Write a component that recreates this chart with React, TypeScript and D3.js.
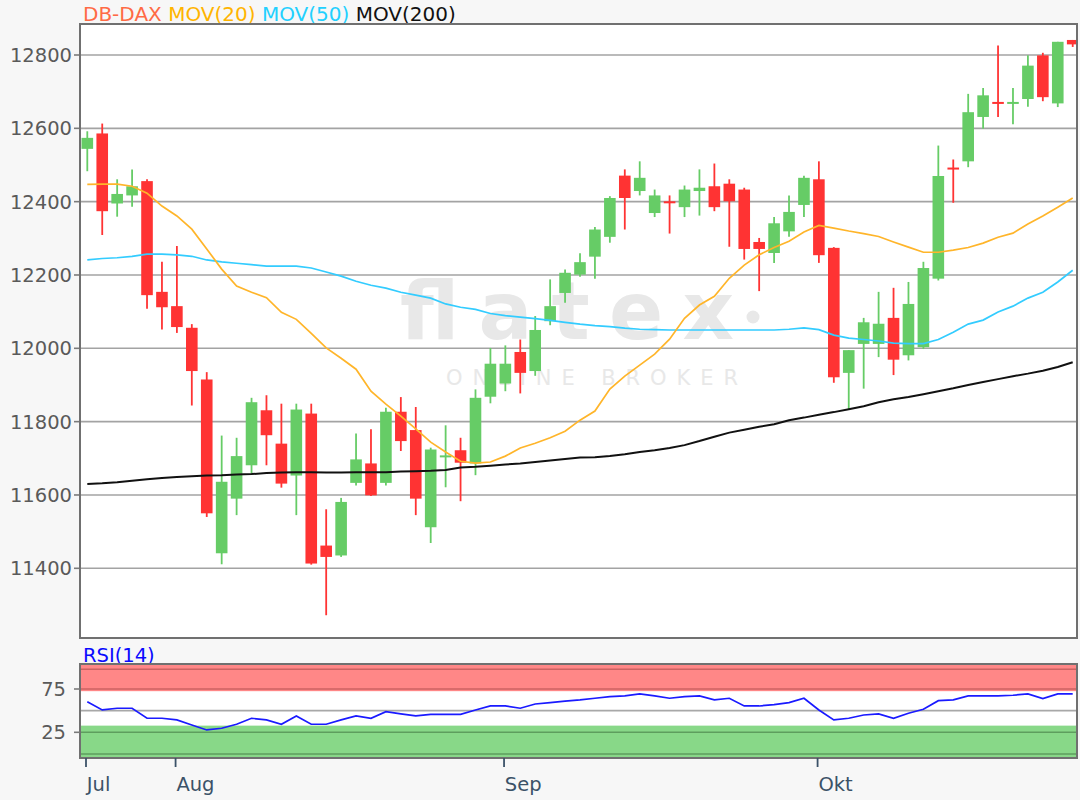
import React from "react";
import * as d3 from "d3";

// ---------- data ----------
const xTickLabels = ["Jul", "Aug", "Sep", "Okt"];
const xTickIndex = [0, 6, 28, 49];
const yTickValues = [11400, 11600, 11800, 12000, 12200, 12400, 12600, 12800];
const rsiTickValues = [25, 75];
const rsiUpperBand = [72.5, 104];
const rsiLowerBand = [-5, 32.7];
const rsiBandLines = [97.8, 75, 25, 0];

const opens = [
  12544, 12586, 12395, 12417, 12456, 12154, 12115, 12056, 11915, 11441,
  11590, 11681, 11831, 11740, 11653, 11822, 11462, 11435, 11633, 11686,
  11633, 11827, 11777, 11512, 11704, 11722, 11686, 11868, 11904, 11990,
  11938, 12074, 12151, 12201, 12250, 12304, 12471, 12429, 12369, 12401,
  12385, 12429, 12442, 12449, 12433, 12290, 12260, 12319, 12391, 12461,
  12274, 11933, 12012, 12012, 12083, 11981, 12003, 12190, 12493, 12510,
  12631, 12672, 12668, 12680, 12799, 12668, 12841,
];
const highs = [
  12592, 12613, 12461, 12488, 12461, 12236, 12279, 12066, 11935, 11762,
  11756, 11865, 11872, 11849, 11849, 11849, 11561, 11592, 11768, 11779,
  11838, 11867, 11840, 11729, 11790, 11756, 11888, 12001, 12008, 12024,
  12088, 12188, 12215, 12259, 12331, 12415, 12488, 12510, 12433, 12417,
  12444, 12488, 12504, 12461, 12438, 12301, 12358, 12417, 12471, 12510,
  12276, 11995, 12083, 12154, 12165, 12181, 12236, 12553, 12515, 12694,
  12710, 12826, 12710, 12799, 12806, 12836, 12841,
];
const lows = [
  12483, 12309, 12359, 12386, 12108, 12051, 12042, 11844, 11540, 11411,
  11545, 11659, 11681, 11620, 11545, 11410, 11272, 11431, 11626, 11597,
  11626, 11720, 11545, 11469, 11621, 11583, 11654, 11850, 11883, 11877,
  11925, 12063, 12124, 12195, 12190, 12288, 12324, 12417, 12358, 12313,
  12358, 12362, 12374, 12277, 12242, 12156, 12233, 12304, 12358, 12233,
  11906, 11833, 11890, 11976, 11927, 11967, 11998, 12185, 12397, 12494,
  12599, 12631, 12611, 12659, 12674, 12658, 12822,
];
const closes = [
  12574, 12374, 12421, 12442, 12145, 12112, 12058, 11938, 11550, 11636,
  11706, 11853, 11763, 11631, 11833, 11413, 11431, 11581, 11697, 11599,
  11827, 11747, 11590, 11724, 11708, 11688, 11865, 11958, 11958, 11933,
  12050, 12115, 12206, 12235, 12324, 12410, 12410, 12465, 12417, 12397,
  12433, 12438, 12385, 12401, 12271, 12271, 12341, 12372, 12465, 12254,
  11921, 11995, 12071, 12067, 11969, 12121, 12219, 12470, 12489, 12644,
  12690, 12668, 12672, 12771, 12685, 12836, 12829,
];
const mov20 = [
  12447, 12448, 12448, 12442, 12423, 12388, 12361, 12325, 12271, 12216,
  12170, 12153, 12138, 12098, 12079, 12041, 12001, 11973, 11943, 11883,
  11848, 11815, 11780, 11744, 11717, 11692, 11687, 11690, 11706, 11728,
  11741, 11756, 11774, 11804, 11829, 11889, 11924, 11954, 11984, 12025,
  12082, 12118, 12142, 12191, 12227, 12255, 12275, 12292, 12317, 12335,
  12328, 12320, 12313, 12305, 12290, 12276, 12262, 12262, 12268, 12275,
  12287, 12303, 12314, 12339, 12361, 12385, 12410,
];
const mov50 = [
  12241, 12245, 12247, 12251, 12257, 12257, 12255, 12251, 12241, 12236,
  12232, 12228, 12224, 12224, 12224, 12219, 12208, 12197, 12183, 12172,
  12164, 12153, 12145, 12137, 12121, 12112, 12106, 12095, 12089, 12085,
  12081, 12076, 12071, 12066, 12062, 12059, 12055, 12052, 12051, 12050,
  12050, 12050, 12050, 12050, 12050, 12050, 12050, 12052, 12056, 12051,
  12036, 12028, 12024, 12020, 12014, 12013, 12013, 12024, 12044, 12066,
  12077, 12099, 12115, 12137, 12153, 12181, 12213,
];
const mov200 = [
  11630, 11632, 11635, 11639, 11643, 11646, 11649, 11651, 11653, 11654,
  11656, 11657, 11660, 11661, 11662, 11662, 11661, 11661, 11662, 11662,
  11662, 11664, 11665, 11666, 11668, 11675, 11677, 11680, 11683, 11686,
  11690, 11694, 11698, 11702, 11703, 11706, 11711, 11717, 11722, 11728,
  11736, 11747, 11759, 11770, 11778, 11786, 11793, 11804, 11811, 11819,
  11826, 11834, 11842, 11853, 11861, 11867, 11875, 11883, 11891, 11900,
  11908, 11916, 11924, 11931, 11939, 11949, 11962,
];
const rsi14 = [
  60.4, 50.8, 52.8, 52.8, 41.2, 41.2, 39.3, 33.5, 27.7, 29.7,
  34.3, 41.2, 39.3, 34.3, 43.9, 34.3, 34.3, 39.3, 43.9, 41.2,
  48.8, 46.2, 43.9, 45.8, 45.8, 45.8, 50.8, 55.4, 55.4, 52.8,
  57.7, 59.2, 60.9, 62.4, 64.3, 66.2, 67.0, 69.3, 67.0, 64.3,
  66.2, 67.0, 62.4, 64.3, 55.4, 55.4, 56.9, 59.2, 64.3, 50.8,
  39.3, 41.2, 45.0, 46.2, 41.2, 47.0, 51.6, 61.5, 62.4, 67.0,
  67.0, 67.0, 67.8, 69.3, 63.9, 69.3, 69.3,
];

// ---------- layout ----------
const W = 1080;
const H = 800;
const PL = 80;
const PR = 1077;
const MT = 24;
const MB = 638;
const RT = 664;
const RB = 758;
const FONT = "'DejaVu Sans', Verdana, sans-serif";

export default function App() {
  const n = closes.length;
  const idx = d3.range(n);
  const x = d3.scaleLinear().domain([0, n - 1]).range([87.3, 1072.7]);
  const y = d3.scaleLinear().domain([11400, 12800]).range([568.3, 55]);
  const yr = d3.scaleLinear().domain([25, 75]).range([732.3, 689]);

  const mkLine = (arr: number[], sc: d3.ScaleLinear<number, number>) =>
    d3
      .line<number>()
      .x((i) => x(i))
      .y((i) => sc(arr[i]))(idx) || "";

  const bodyW = 11.6;

  return (
    <div style={{ position: "absolute", left: 0, top: 0, width: W, height: H }}>
      <svg width={W} height={H} style={{ display: "block", fontFamily: FONT }}>
        <defs>
          <clipPath id="mainClip">
            <rect x={PL} y={MT} width={PR - PL} height={MB - MT} />
          </clipPath>
          <clipPath id="rsiClip">
            <rect x={PL} y={RT} width={PR - PL} height={RB - RT} />
          </clipPath>
        </defs>
        <rect x={0} y={0} width={W} height={H} fill="#f7f7f7" />

        {/* legend */}
        <text x={83} y={20.5} fontSize={20}>
          <tspan fill="#ff6a45">DB-DAX </tspan>
          <tspan fill="#ffb400">MOV(20) </tspan>
          <tspan fill="#22d0ff">MOV(50) </tspan>
          <tspan fill="#111">MOV(200)</tspan>
        </text>

        {/* main panel */}
        <rect x={PL} y={MT} width={PR - PL} height={MB - MT} fill="#ffffff" />
        <g fill="#e8e8e8">
          <text x={400} y={339} fontSize={80} fontWeight="bold" textLength={334} lengthAdjust="spacing">
            flatex
          </text>
          <circle cx={753} cy={317} r={6.5} />
          <text x={446} y={385} fontSize={21} textLength={292} lengthAdjust="spacing">
            ONLINE BROKER
          </text>
        </g>
        {yTickValues.map((v) => (
          <g key={v}>
            <line x1={PL} x2={PR} y1={y(v)} y2={y(v)} stroke="#a3a3a3" strokeWidth={1.6} />
            <line x1={74} x2={PL} y1={y(v)} y2={y(v)} stroke="#7a7a7a" strokeWidth={1.6} />
            <text x={72} y={y(v)} dy="0.36em" textAnchor="end" fontSize={19.5} fill="#5a5a5a">
              {v}
            </text>
          </g>
        ))}
        <g clipPath="url(#mainClip)">
          {idx.map((i) => {
            const up = closes[i] >= opens[i];
            const col = up ? "#66cc66" : "#ff3333";
            const top = y(Math.max(opens[i], closes[i]));
            const bot = y(Math.min(opens[i], closes[i]));
            const h = Math.max(bot - top, 2);
            return (
              <g key={i}>
                <line x1={x(i)} x2={x(i)} y1={y(highs[i])} y2={y(lows[i])} stroke={col} strokeWidth={1.8} />
                <rect x={x(i) - bodyW / 2} y={top} width={bodyW} height={h} fill={col} />
              </g>
            );
          })}
          <path d={mkLine(mov200, y)} fill="none" stroke="#111" strokeWidth={2} />
          <path d={mkLine(mov50, y)} fill="none" stroke="#33ccff" strokeWidth={1.7} />
          <path d={mkLine(mov20, y)} fill="none" stroke="#ffb52a" strokeWidth={1.7} />
        </g>
        <rect x={PL} y={MT} width={PR - PL} height={MB - MT} fill="none" stroke="#707070" strokeWidth={2} />

        {/* RSI panel */}
        <text x={83} y={661.5} fontSize={19.5} fill="#0a0aff">
          RSI(14)
        </text>
        <rect x={PL} y={RT} width={PR - PL} height={RB - RT} fill="#ffffff" />
        <g clipPath="url(#rsiClip)">
          <rect
            x={PL}
            y={yr(rsiUpperBand[1])}
            width={PR - PL}
            height={yr(rsiUpperBand[0]) - yr(rsiUpperBand[1])}
            fill="#ff8787"
          />
          <rect
            x={PL}
            y={yr(rsiLowerBand[1])}
            width={PR - PL}
            height={yr(rsiLowerBand[0]) - yr(rsiLowerBand[1])}
            fill="#88d888"
          />
          {rsiBandLines.map((v) => (
            <line
              key={v}
              x1={PL}
              x2={PR}
              y1={yr(v)}
              y2={yr(v)}
              stroke={v > 50 ? "#cc6262" : "#5e9e5e"}
              strokeWidth={1.6}
            />
          ))}
          <line x1={PL} x2={PR} y1={yr(50)} y2={yr(50)} stroke="#a8a8a8" strokeWidth={1.6} />
          <path d={mkLine(rsi14, yr)} fill="none" stroke="#1a1aff" strokeWidth={1.7} />
        </g>
        <rect x={PL} y={RT} width={PR - PL} height={RB - RT} fill="none" stroke="#707070" strokeWidth={2} />
        {rsiTickValues.map((v) => (
          <g key={v}>
            <line x1={74} x2={PL} y1={yr(v)} y2={yr(v)} stroke="#7a7a7a" strokeWidth={1.6} />
            <text x={66} y={yr(v)} dy="0.36em" textAnchor="end" fontSize={19.5} fill="#5a5a5a">
              {v}
            </text>
          </g>
        ))}

        {/* x axis */}
        {xTickIndex.map((ti, k) => (
          <g key={ti}>
            <line x1={x(ti) - 1.3} x2={x(ti) - 1.3} y1={RB} y2={767} stroke="#3b5268" strokeWidth={1.8} />
            <text x={x(ti) - 0.5} y={791} fontSize={19.5} fill="#3b5268">
              {xTickLabels[k]}
            </text>
          </g>
        ))}
      </svg>
    </div>
  );
}
